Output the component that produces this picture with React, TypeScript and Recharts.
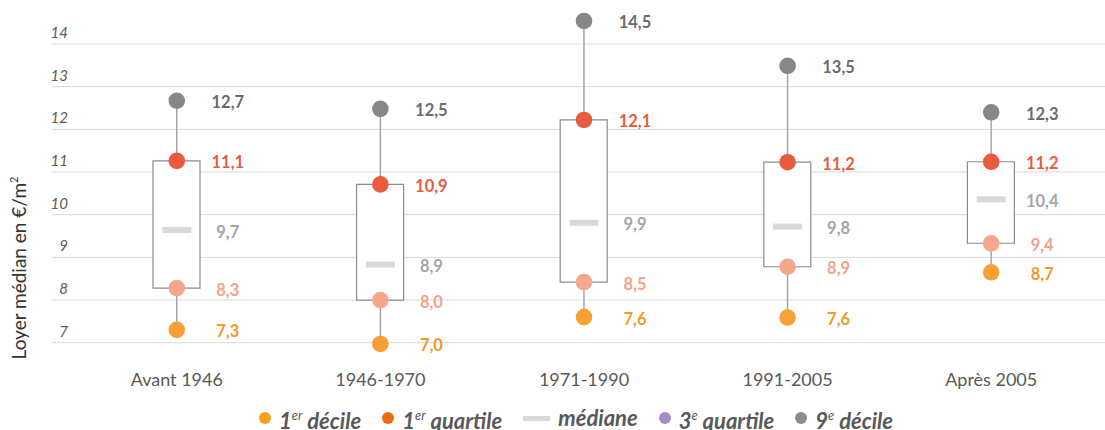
import { ComposedChart, Bar, Line, XAxis, YAxis, CartesianGrid, LabelList } from "recharts";

const categories = ["Avant 1946", "1946-1970", "1971-1990", "1991-2005", "Après 2005"];

// positions
const d1 = [7.3, 6.97, 7.6, 7.59, 8.65];
const q1 = [8.28, 8.0, 8.42, 8.78, 9.33];
const median = [9.64, 8.83, 9.81, 9.72, 10.36];
const q3 = [11.26, 10.71, 12.22, 11.23, 11.24];
const d9 = [12.67, 12.48, 14.54, 13.49, 12.4];

// étiquettes affichées
const d1Labels = ["7,3", "7,0", "7,6", "7,6", "8,7"];
const q1Labels = ["8,3", "8,0", "8,5", "8,9", "9,4"];
const medianLabels = ["9,7", "8,9", "9,9", "9,8", "10,4"];
const q3Labels = ["11,1", "10,9", "12,1", "11,2", "11,2"];
const d9Labels = ["12,7", "12,5", "14,5", "13,5", "12,3"];

const yTicks = [7, 8, 9, 10, 11, 12, 13, 14];

const data = categories.map((cat, i) => ({
  cat,
  d1: d1[i],
  q1: q1[i],
  med: median[i],
  q3: q3[i],
  d9: d9[i],
  box: [q1[i], q3[i]],
  whisker: [d1[i], d9[i]],
}));

const FONT = "Lato, 'Noto Sans', sans-serif";
const PAD = { left: 23, right: 12 };

const makeDot = (color: string) => (p: any) => {
  if (p.cx == null || p.cy == null) return <g key={p.index} />;
  return <circle key={p.index} cx={p.cx} cy={p.cy} r={8.3} fill={color} />;
};

const medianDot = (p: any) => {
  if (p.cx == null || p.cy == null) return <g key={p.index} />;
  return <rect key={p.index} x={p.cx - 14.5} y={p.cy - 3} width={29} height={6} fill="#D9D9D9" />;
};

const makeLabel = (labels: string[], color: string, weight = 700) => (p: any) => (
  <text x={p.x + 51} y={p.y + 1.5} textAnchor="middle" dominantBaseline="central"
    fontFamily={FONT} fontSize={16.5} fontWeight={weight} fill={color}>
    {labels[p.index]}
  </text>
);

const YTick = (p: any) => (
  <text x={68} y={p.y - 6} textAnchor="end" fontFamily={FONT} fontSize={15}
    fontStyle="italic" fill="#595959">
    {p.payload.value}
  </text>
);

const XTick = (p: any) => (
  <text x={p.x} y={p.y + 18} textAnchor="middle" fontFamily={FONT} fontSize={18} fill="#595959">
    {p.payload.value}
  </text>
);

const legendItems = [
  { kind: "dot", color: "#F7A01E", num: "1", sup: "er", text: " décile" },
  { kind: "dot", color: "#EE6A10", num: "1", sup: "er", text: " quartile" },
  { kind: "dash", color: "#D9D9D9", num: "", sup: "", text: "médiane" },
  { kind: "dot", color: "#A98BC9", num: "3", sup: "e", text: " quartile" },
  { kind: "dot", color: "#8C8C8C", num: "9", sup: "e", text: " décile" },
];

export default function App() {
  return (
    <div style={{ position: "absolute", left: 0, top: 0, width: 1105, height: 430, background: "#fff", overflow: "hidden" }}>
      <ComposedChart width={1105} height={430} data={data}
        margin={{ top: 18.4, right: 0, bottom: 31.7, left: 8 }}>
        <CartesianGrid vertical={false} stroke="#D9D9D9" horizontalValues={yTicks} />
        <XAxis dataKey="cat" padding={PAD} axisLine={false} tickLine={false}
          tickSize={0} tickMargin={0} height={30} tick={<XTick />} interval={0} />
        <XAxis xAxisId="w" dataKey="cat" padding={PAD} hide />
        <YAxis width={44} domain={[6.4, 14.6]} ticks={yTicks}
          axisLine={false} tickLine={false} tick={<YTick />} />
        <Bar xAxisId="w" dataKey="whisker" barSize={1.5} fill="#A6A6A6" isAnimationActive={false} />
        <Bar dataKey="box" barSize={47} fill="#FFFFFF" stroke="#8C8C8C" strokeWidth={1.2}
          isAnimationActive={false} />
        <Line dataKey="med" stroke="none" dot={medianDot} activeDot={false} isAnimationActive={false}>
          <LabelList dataKey="med" content={makeLabel(medianLabels, "#A6A6A6")} />
        </Line>
        <Line dataKey="d1" stroke="none" dot={makeDot("#F7A035")} activeDot={false} isAnimationActive={false}>
          <LabelList dataKey="d1" content={makeLabel(d1Labels, "#F39A2B")} />
        </Line>
        <Line dataKey="q1" stroke="none" dot={makeDot("#F4A78D")} activeDot={false} isAnimationActive={false}>
          <LabelList dataKey="q1" content={makeLabel(q1Labels, "#F4A28A")} />
        </Line>
        <Line dataKey="q3" stroke="none" dot={makeDot("#E85B3F")} activeDot={false} isAnimationActive={false}>
          <LabelList dataKey="q3" content={makeLabel(q3Labels, "#E85B3F")} />
        </Line>
        <Line dataKey="d9" stroke="none" dot={makeDot("#878787")} activeDot={false} isAnimationActive={false}>
          <LabelList dataKey="d9" content={makeLabel(d9Labels, "#6B6B6B")} />
        </Line>
      </ComposedChart>

      <div style={{
        position: "absolute", left: 18, top: 268, transform: "translate(-50%, -50%) rotate(-90deg)",
        whiteSpace: "nowrap", fontFamily: FONT, fontSize: 19, color: "#333333",
      }}>
        Loyer médian en €/m<sup style={{ fontSize: 11 }}>2</sup>
      </div>

      <div style={{
        position: "absolute", left: 259, top: 402, display: "flex", alignItems: "center", gap: 21,
        fontFamily: FONT, fontSize: 22, fontStyle: "italic", fontWeight: 700, color: "#595959",
        whiteSpace: "nowrap", lineHeight: "26px",
      }}>
        {legendItems.map((it, i) => (
          <div key={i} style={{ display: "flex", alignItems: "center", gap: 8 }}>
            {it.kind === "dot" ? (
              <span style={{ width: 12, height: 12, borderRadius: 6, background: it.color, display: "inline-block" }} />
            ) : (
              <span style={{ width: 27, height: 5, background: it.color, display: "inline-block" }} />
            )}
            <span>
              {it.num}
              {it.sup && <sup style={{ fontSize: 13, fontWeight: 400, verticalAlign: "9px" }}>{it.sup}</sup>}
              {it.text}
            </span>
          </div>
        ))}
      </div>
    </div>
  );
}
